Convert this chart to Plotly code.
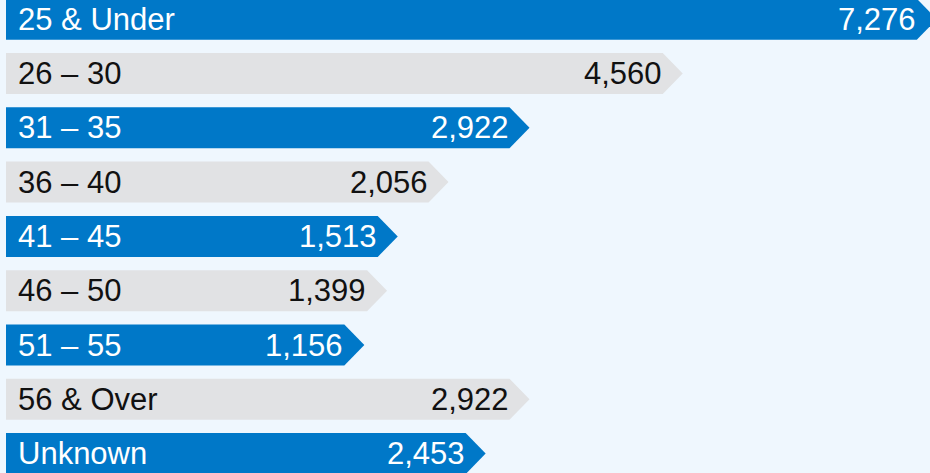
import plotly.graph_objects as go

categories = ["25 & Under", "26 – 30", "31 – 35", "36 – 40", "41 – 45",
              "46 – 50", "51 – 55", "56 & Over", "Unknown"]
values = [7276, 4560, 2922, 2056, 1513, 1399, 1156, 2922, 2453]

BLUE = "#0078C8"
GRAY = "#E1E2E4"
BG = "#EFF7FE"
FONT = "Liberation Sans, Arial, sans-serif"

W, H = 930, 473
px_per_unit = 0.09354          # horizontal scale (pixels per data unit)
zero_px = 236.2                # pixel position of value 0
x0 = -zero_px / px_per_unit
x1 = (W - zero_px) / px_per_unit
base = (6 - zero_px) / px_per_unit   # bars start a little right of the edge
tip = 20 / px_per_unit               # arrow tip length in data units
half = 0.3775                        # half bar height in category units

fig = go.Figure()
annotations = []
for i, (cat, v) in enumerate(zip(categories, values)):
    color = BLUE if i % 2 == 0 else GRAY
    tcolor = "white" if i % 2 == 0 else "#111111"
    fig.add_trace(go.Scatter(
        x=[base, v, v + tip, v, base, base],
        y=[i - half, i - half, i, i + half, i + half, i - half],
        fill="toself", fillcolor=color, mode="lines",
        line=dict(width=0, color=color), hoverinfo="skip", showlegend=False,
    ))
    annotations.append(dict(
        x=16 / W, xref="paper", y=i, yref="y", text=cat, showarrow=False,
        xanchor="left", yanchor="middle",
        font=dict(family=FONT, size=31, color=tcolor),
    ))
    annotations.append(dict(
        x=v, xref="x", y=i, yref="y", text=f"{v:,}", showarrow=False,
        xanchor="right", yanchor="middle", xshift=1,
        font=dict(family=FONT, size=31, color=tcolor),
    ))

fig.update_layout(
    width=W, height=H,
    margin=dict(l=0, r=0, t=0, b=0),
    paper_bgcolor=BG, plot_bgcolor=BG,
    xaxis=dict(range=[x0, x1], visible=False, fixedrange=True),
    yaxis=dict(range=[8.357, -0.354], visible=False, fixedrange=True),
    annotations=annotations,
)

fig.write_html(
    "out.html",
    config={"displayModeBar": False},
    post_script="document.body.style.margin='0';document.body.style.overflow='hidden';",
)
